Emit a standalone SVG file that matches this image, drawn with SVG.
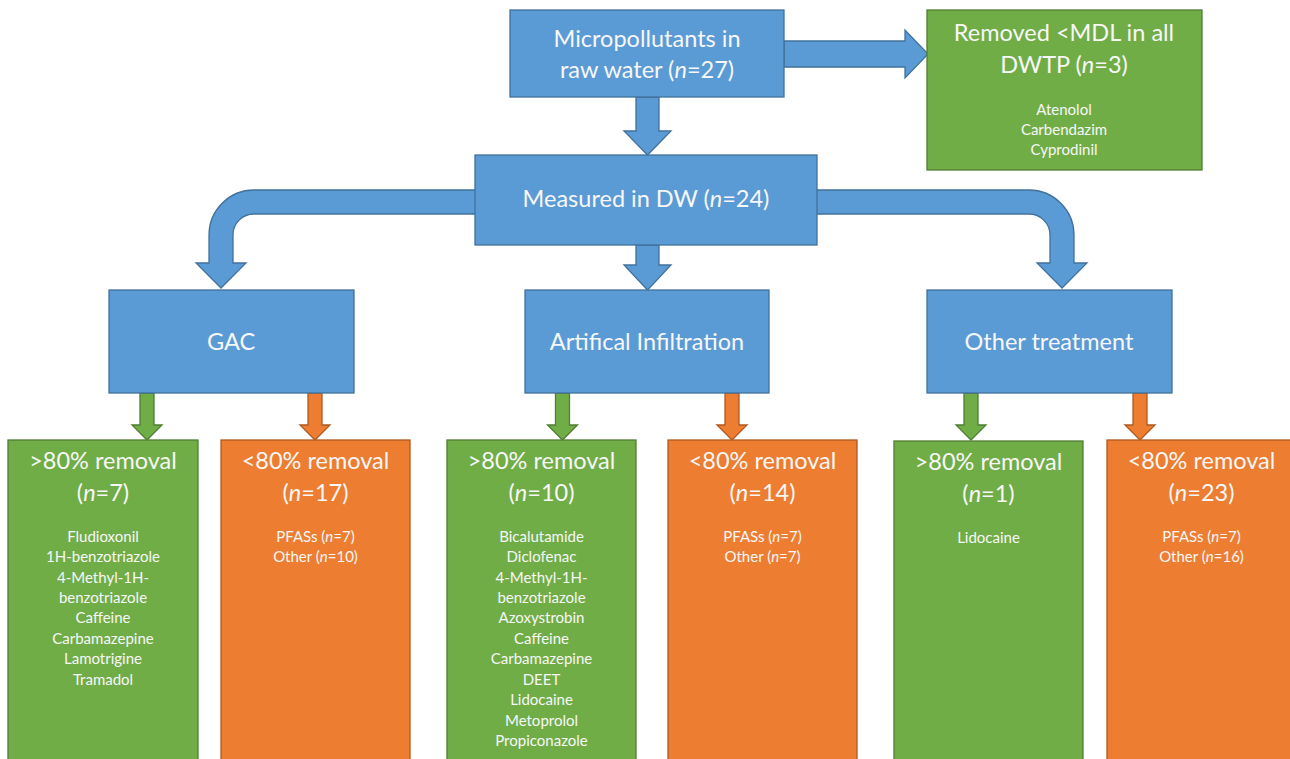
<svg xmlns="http://www.w3.org/2000/svg" width="1290" height="759" viewBox="0 0 1290 759">
<style>
.blue{fill:#5B9BD5;stroke:#41719C;stroke-width:1.3}
.green{fill:#70AD47;stroke:#507E32;stroke-width:1.3}
.orange{fill:#ED7D31;stroke:#AE5A21;stroke-width:1.3}
text{font-family:Lato,"Liberation Sans",sans-serif;fill:#F7F7F7;text-anchor:middle}
.big{font-size:23.5px}
.sm{font-size:15px}
</style>
<rect width="1290" height="759" fill="#FFFFFF"/>
<g id="connectors">
<path class="blue" d="M784 41 L905 41 L905 30 L928 54 L905 78 L905 67 L784 67 Z"/>
<path class="blue" d="M636 97 L659 97 L659 131 L671 131 L647.5 155 L624 131 L636 131 Z"/>
<path class="blue" d="M636 245 L659 245 L659 265 L671 265 L647.5 290 L624 265 L636 265 Z"/>
<path class="blue" d="M476 190 L254 190 A45 45 0 0 0 209 235 L209 263 L196 263 L221 288 L246 263 L233 263 L233 235 A21 21 0 0 1 254 214 L476 214 Z"/>
<path class="blue" d="M816 190 L1029 190 A45 45 0 0 1 1074 235 L1074 263 L1087 263 L1062 288 L1037 263 L1050 263 L1050 235 A21 21 0 0 0 1029 214 L816 214 Z"/>
<path class="green" d="M140 393 L154 393 L154 425 L162 425 L147 440 L132 425 L140 425 Z"/>
<path class="orange" d="M308 393 L322 393 L322 425 L330 425 L315 440 L300 425 L308 425 Z"/>
<path class="green" d="M555.5 393 L569.5 393 L569.5 425 L577.5 425 L562.5 440 L547.5 425 L555.5 425 Z"/>
<path class="orange" d="M725 393 L739 393 L739 425 L747 425 L732 440 L717 425 L725 425 Z"/>
<path class="green" d="M964 393 L978 393 L978 425 L986 425 L971 440 L956 425 L964 425 Z"/>
<path class="orange" d="M1133 393 L1147 393 L1147 425 L1155 425 L1140 440 L1125 425 L1133 425 Z"/>
</g>
<g id="raw">
<rect class="blue" x="510" y="10" width="274" height="87"/>
<text class="big" x="647" y="47">Micropollutants in</text>
<text class="big" x="647" y="78">raw water (<tspan font-style="italic">n</tspan>=27)</text>
</g>
<g id="removed">
<rect class="green" x="927" y="10" width="275" height="160"/>
<text class="big" x="1064" y="41">Removed &lt;MDL in all</text>
<text class="big" x="1064" y="73">DWTP (<tspan font-style="italic">n</tspan>=3)</text>
<text class="sm" x="1064" y="115">Atenolol</text>
<text class="sm" x="1064" y="135">Carbendazim</text>
<text class="sm" x="1064" y="155">Cyprodinil</text>
</g>
<g id="measured">
<rect class="blue" x="475" y="155" width="342" height="90"/>
<text class="big" x="646" y="207">Measured in DW (<tspan font-style="italic">n</tspan>=24)</text>
</g>
<g id="gac">
<rect class="blue" x="109" y="290" width="245" height="103"/>
<text class="big" x="231" y="350">GAC</text>
</g>
<g id="ai">
<rect class="blue" x="525" y="290" width="244" height="103"/>
<text class="big" x="647" y="350">Artifical Infiltration</text>
</g>
<g id="other">
<rect class="blue" x="927" y="290" width="245" height="103"/>
<text class="big" x="1049" y="350">Other treatment</text>
</g>
<g id="gac-high">
<rect class="green" x="8" y="440" width="190" height="330"/>
<text class="big" x="103" y="469">&gt;80% removal</text>
<text class="big" x="103" y="501">(<tspan font-style="italic">n</tspan>=7)</text>
<text class="sm" x="103" y="542">Fludioxonil</text>
<text class="sm" x="103" y="562">1H-benzotriazole</text>
<text class="sm" x="103" y="583">4-Methyl-1H-</text>
<text class="sm" x="103" y="603">benzotriazole</text>
<text class="sm" x="103" y="623">Caffeine</text>
<text class="sm" x="103" y="644">Carbamazepine</text>
<text class="sm" x="103" y="664">Lamotrigine</text>
<text class="sm" x="103" y="685">Tramadol</text>
</g>
<g id="gac-low">
<rect class="orange" x="221" y="440" width="189" height="330"/>
<text class="big" x="315.5" y="469">&lt;80% removal</text>
<text class="big" x="315.5" y="501">(<tspan font-style="italic">n</tspan>=17)</text>
<text class="sm" x="315.5" y="542">PFASs (<tspan font-style="italic">n</tspan>=7)</text>
<text class="sm" x="315.5" y="562">Other (<tspan font-style="italic">n</tspan>=10)</text>
</g>
<g id="ai-high">
<rect class="green" x="447" y="440" width="189" height="330"/>
<text class="big" x="541.5" y="469">&gt;80% removal</text>
<text class="big" x="541.5" y="501">(<tspan font-style="italic">n</tspan>=10)</text>
<text class="sm" x="541.5" y="542">Bicalutamide</text>
<text class="sm" x="541.5" y="562">Diclofenac</text>
<text class="sm" x="541.5" y="583">4-Methyl-1H-</text>
<text class="sm" x="541.5" y="603">benzotriazole</text>
<text class="sm" x="541.5" y="623">Azoxystrobin</text>
<text class="sm" x="541.5" y="644">Caffeine</text>
<text class="sm" x="541.5" y="664">Carbamazepine</text>
<text class="sm" x="541.5" y="685">DEET</text>
<text class="sm" x="541.5" y="705">Lidocaine</text>
<text class="sm" x="541.5" y="726">Metoprolol</text>
<text class="sm" x="541.5" y="746">Propiconazole</text>
</g>
<g id="ai-low">
<rect class="orange" x="668" y="440" width="189" height="330"/>
<text class="big" x="762.5" y="469">&lt;80% removal</text>
<text class="big" x="762.5" y="501">(<tspan font-style="italic">n</tspan>=14)</text>
<text class="sm" x="762.5" y="542">PFASs (<tspan font-style="italic">n</tspan>=7)</text>
<text class="sm" x="762.5" y="562">Other (<tspan font-style="italic">n</tspan>=7)</text>
</g>
<g id="other-high">
<rect class="green" x="894" y="441" width="189" height="330"/>
<text class="big" x="988.5" y="470">&gt;80% removal</text>
<text class="big" x="988.5" y="502">(<tspan font-style="italic">n</tspan>=1)</text>
<text class="sm" x="988.5" y="543">Lidocaine</text>
</g>
<g id="other-low">
<rect class="orange" x="1107" y="440" width="189" height="330"/>
<text class="big" x="1201.5" y="469">&lt;80% removal</text>
<text class="big" x="1201.5" y="501">(<tspan font-style="italic">n</tspan>=23)</text>
<text class="sm" x="1201.5" y="542">PFASs (<tspan font-style="italic">n</tspan>=7)</text>
<text class="sm" x="1201.5" y="562">Other (<tspan font-style="italic">n</tspan>=16)</text>
</g>
</svg>
